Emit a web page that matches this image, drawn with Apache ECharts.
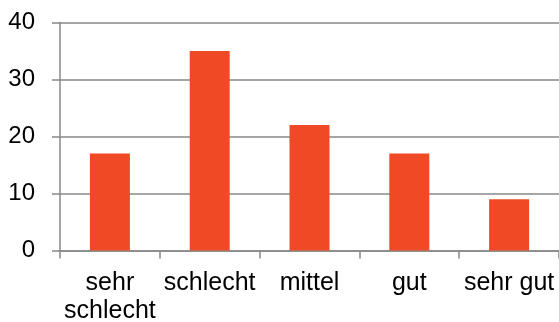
<!DOCTYPE html>
<html>
<head>
<meta charset="utf-8">
<script src="https://cdn.jsdelivr.net/npm/echarts@6/dist/echarts.min.js"></script>
<style>
  html, body { margin: 0; padding: 0; background: #ffffff; }
  #chart { width: 559px; height: 322px; }
</style>
</head>
<body>
<div id="chart"></div>
<script>
// Ratings and the number of answers for each
const categories = ['sehr\nschlecht', 'schlecht', 'mittel', 'gut', 'sehr gut'];
const counts = [17, 35, 22, 17, 9];
const yTicks = [0, 10, 20, 30, 40];

const gray = '#888888';
const font = '"Liberation Sans", Arial, sans-serif';

const chart = echarts.init(document.getElementById('chart'), null, { renderer: 'canvas' });
chart.setOption({
  animation: false,
  backgroundColor: '#ffffff',
  grid: {
    left: 60, right: 0, top: 22.5, bottom: 71.5,
    containLabel: false, outerBoundsMode: 'none'
  },
  xAxis: {
    type: 'category',
    data: categories,
    boundaryGap: true,
    axisLine: { show: true, lineStyle: { color: gray, width: 1.5 } },
    axisTick: { show: true, length: 8, lineStyle: { color: gray, width: 1.5 } },
    axisLabel: {
      color: '#000000', fontFamily: font, fontSize: 25, lineHeight: 28,
      margin: 19, interval: 0
    }
  },
  yAxis: {
    type: 'value',
    min: yTicks[0],
    max: yTicks[yTicks.length - 1],
    interval: 10,
    axisLine: { show: true, lineStyle: { color: gray, width: 1.5 } },
    axisTick: { show: true, length: 8, lineStyle: { color: gray, width: 1.5 } },
    splitLine: { show: true, lineStyle: { color: gray, width: 1.5 } },
    axisLabel: { color: '#000000', fontFamily: font, fontSize: 24, margin: 25 }
  },
  series: [{
    type: 'bar',
    data: counts,
    barWidth: 40,
    itemStyle: { color: '#ef4a25' }
  }]
});
</script>
</body>
</html>
